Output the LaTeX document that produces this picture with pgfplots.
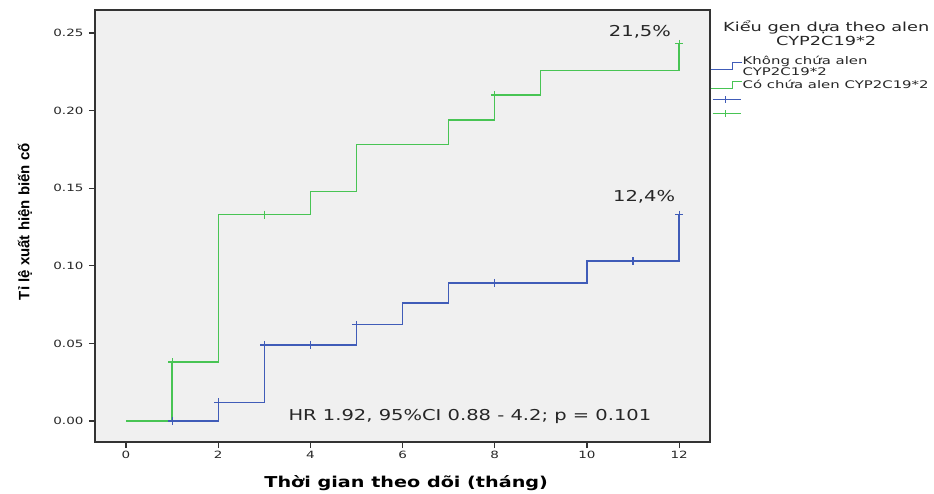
\documentclass[border=0pt]{standalone}
\usepackage{pgfplots}
\pgfplotsset{compat=1.18}
\usepackage{fontspec}
\setmainfont{DejaVu Sans}
\newfontfamily\arialf{Liberation Sans}
\definecolor{kmblue}{RGB}{64,92,184}
\definecolor{kmgreen}{RGB}{72,196,84}
\definecolor{bgc}{RGB}{240,240,240}
\newcommand{\sx}[2]{\scalebox{#1}[1]{#2}}
\begin{document}
\begin{tikzpicture}
\path[use as bounding box] (-95pt,-51pt) rectangle (839pt,442pt);
\begin{axis}[
  at={(0pt,0pt)}, anchor=south west,
  scale only axis, width=615pt, height=432pt,
  xmin=-0.673, xmax=12.67, ymin=-0.01353, ymax=0.2648,
  axis background/.style={fill=bgc},
  axis line style={draw=black!80, line width=1.2pt},
  tick align=outside, xtick pos=bottom, ytick pos=left,
  major tick length=6pt,
  tick style={draw=black!80, line width=1.2pt},
  xtick={0,2,4,6,8,10,12},
  ytick={0,0.05,0.10,0.15,0.20,0.25},
  /pgf/number format/assume math mode=true,
  xticklabel={\sx{1.35}{\pgfmathprintnumber{\tick}}},
  yticklabel={\sx{1.35}{\pgfmathprintnumber[fixed,fixed zerofill,precision=2]{\tick}}},
  ticklabel style={font=\fontsize{10}{12}\selectfont, text=black!85},
  yticklabel style={xshift=-2pt},
  xlabel={\sx{1.28}{\bfseries Thời gian theo dõi (tháng)}},
  xlabel style={font=\fontsize{15}{17}\selectfont, at={(axis description cs:0.506,-0.095)}, anchor=center},
  ylabel={\arialf\bfseries Tỉ lệ xuất hiện biến cố},
  ylabel style={font=\fontsize{15}{17}\selectfont, at={(axis description cs:-0.1138,0.51)}, anchor=center},
  legend style={draw=none, fill=none, at={(axis description cs:1,0.895)}, anchor=north west,
    inner sep=0pt, outer sep=0pt, row sep=0pt, column sep=0pt,
    font=\fontsize{10.5}{9.5}\selectfont,
    nodes={inner sep=0.6pt, align=left, text=black!85}},
  legend cell align=left,
  clip=false,
]
\addplot[const plot, kmblue, line width=1.3pt,
  legend image code/.code={\path[draw=none,fill=none] (0pt,-7.5pt) rectangle (30pt,7.5pt);
    \draw[kmblue, line width=1.1pt] (0pt,-3.5pt)--(22pt,-3.5pt)--(22pt,3.5pt)--(31pt,3.5pt);}]
  coordinates {(0,0) (2,0.012) (3,0.049) (5,0.062) (6,0.076) (7,0.089) (10,0.103) (12,0.133)};
\addlegendentry{\sx{1.42}{Không chứa alen}\\\sx{1.42}{CYP2C19*2}}
\addplot[const plot, kmgreen, line width=1.3pt,
  legend image code/.code={\path[draw=none,fill=none] (0pt,-7.5pt) rectangle (30pt,7.5pt);
    \draw[kmgreen, line width=1.1pt] (0pt,-3.5pt)--(22pt,-3.5pt)--(22pt,3.5pt)--(31pt,3.5pt);}]
  coordinates {(0,0) (1,0.038) (2,0.133) (4,0.148) (5,0.178) (7,0.194) (8,0.210) (9,0.226) (12,0.243)};
\addlegendentry{\sx{1.42}{Có chứa alen CYP2C19*2}}
\addplot[only marks, mark=+, mark size=4pt, kmblue, line width=1.2pt,
  legend image code/.code={\path[draw=none,fill=none] (0pt,-7.5pt) rectangle (30pt,7pt);
    \draw[kmblue, line width=1.1pt] (2pt,0pt)--(30pt,0pt);
    \draw[kmblue, line width=1.1pt] (15pt,-3.5pt)--(15pt,3.5pt);}]
  coordinates {(1,0) (2,0.012) (3,0.049) (4,0.049) (5,0.062) (8,0.089) (11,0.103) (12,0.133)};
\addlegendentry{}
\addplot[only marks, mark=+, mark size=4pt, kmgreen, line width=1.2pt,
  legend image code/.code={\path[draw=none,fill=none] (0pt,-6.5pt) rectangle (30pt,6.5pt);
    \draw[kmgreen, line width=1.1pt] (2pt,0pt)--(30pt,0pt);
    \draw[kmgreen, line width=1.1pt] (15pt,-3.5pt)--(15pt,3.5pt);}]
  coordinates {(1,0.038) (3,0.133) (8,0.210) (12,0.243)};
\addlegendentry{}
\node[font=\fontsize{15}{17}\selectfont, text=black!85, anchor=west] at (axis cs:3.45,0.003) {\sx{1.3}{HR 1.92, 95\%CI 0.88 - 4.2; p = 0.101}};
\node[font=\fontsize{15}{17}\selectfont, text=black!85] at (axis cs:11.15,0.2506) {\sx{1.3}{21,5\%}};
\node[font=\fontsize{15}{17}\selectfont, text=black!85] at (axis cs:11.24,0.1443) {\sx{1.3}{12,4\%}};
\node[font=\fontsize{12.5}{14}\selectfont, text=black!85, align=center] at (axis description cs:1.189,0.947) {\sx{1.42}{Kiểu gen dựa theo alen}\\\sx{1.42}{CYP2C19*2}};
\end{axis}
\end{tikzpicture}
\end{document}
